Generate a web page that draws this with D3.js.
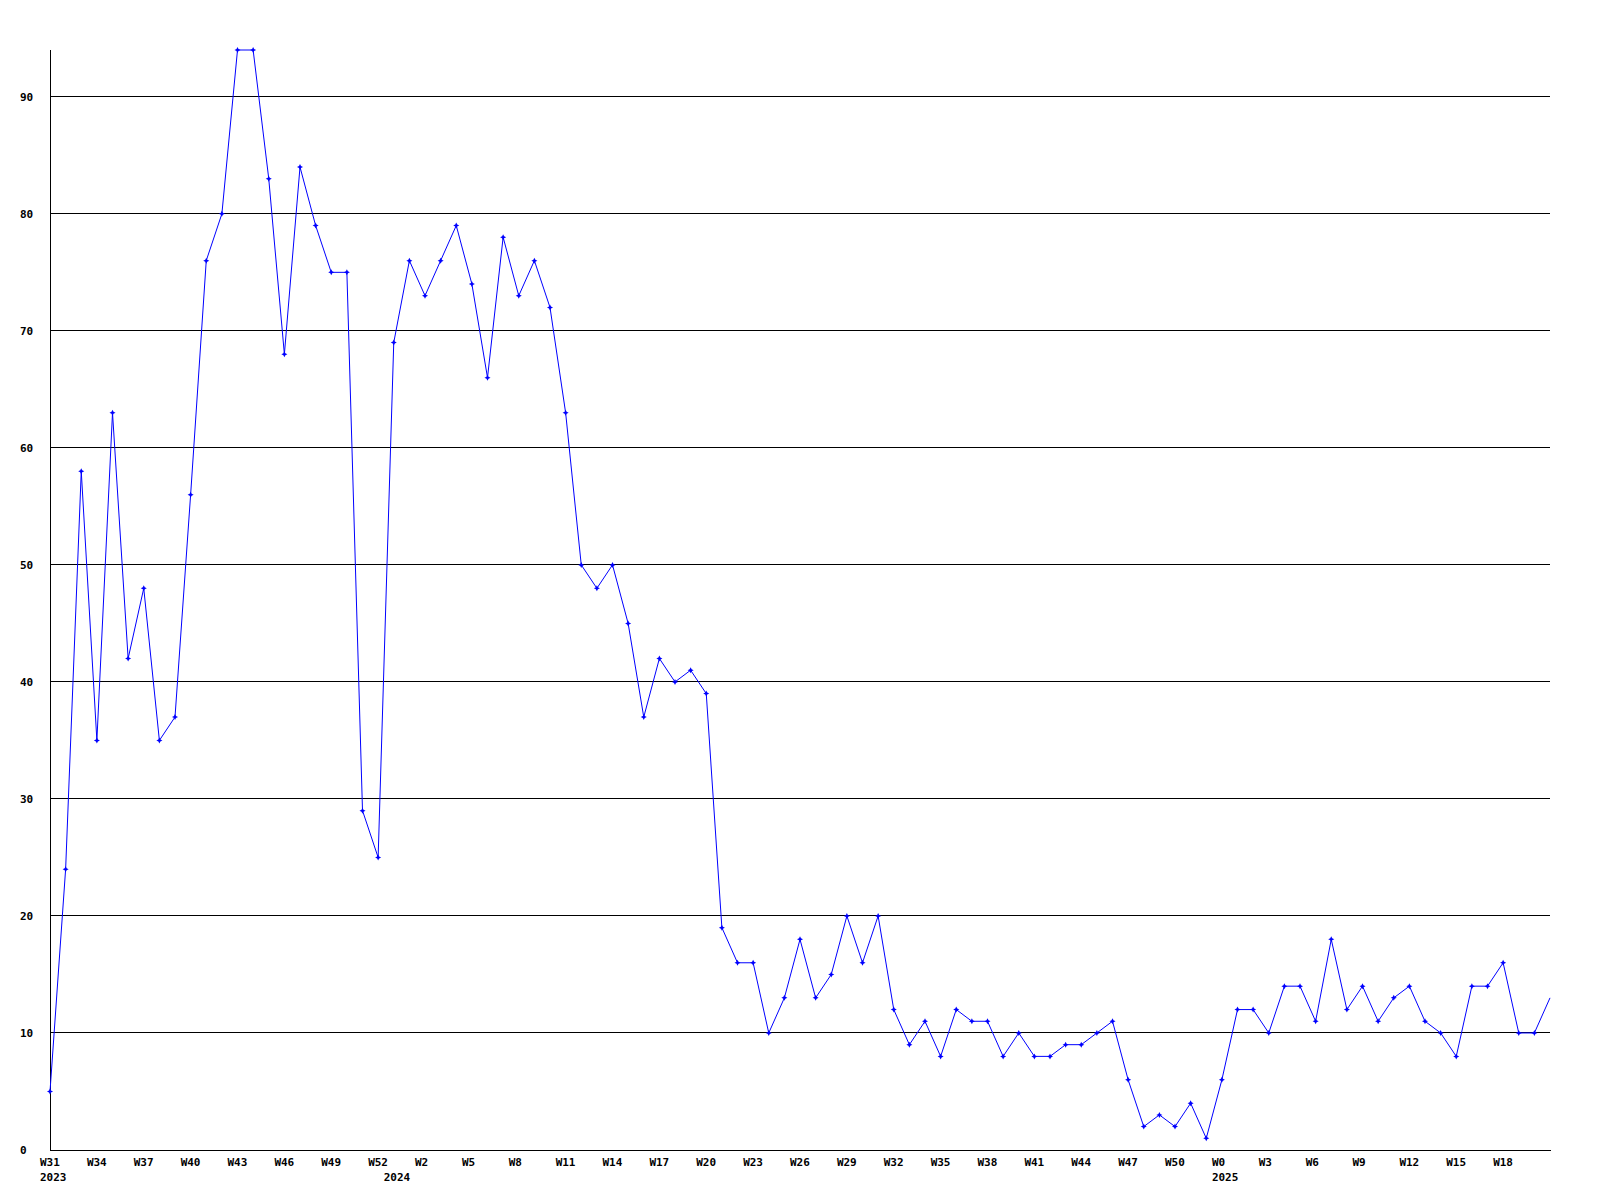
<!DOCTYPE html>
<html>
<head>
<meta charset="utf-8">
<script src="https://cdn.jsdelivr.net/npm/d3@7"></script>
<style>
  html, body { margin: 0; padding: 0; background: #fff; }
  svg { display: block; }
  text { font-family: "DejaVu Sans Mono", "Liberation Mono", monospace; font-weight: bold; font-size: 11px; fill: #000; }
</style>
</head>
<body>
<svg id="chart" width="1600" height="1200"></svg>
<script>
// Week labels per point: 2023 W31..W52, 2024 W0..W52, 2025 W0..W21
const weeks2023 = d3.range(31, 53).map(w => "W" + w);
const weeks2024 = d3.range(0, 53).map(w => "W" + w);
const weeks2025 = d3.range(0, 22).map(w => "W" + w);
const weekLabels = [...weeks2023, ...weeks2024, ...weeks2025];

// Year labels, placed at first point of each year
const yearLabels = ["2023", "2024", "2025"];
const yearStartIdx = [0, weeks2023.length, weeks2023.length + weeks2024.length];

const values = [
  5, 24, 58, 35, 63, 42, 48, 35, 37, 56,
  76, 80, 94, 94, 83, 68, 84, 79, 75, 75,
  29, 25, 69, 76, 73, 76, 79, 74, 66, 78,
  73, 76, 72, 63, 50, 48, 50, 45, 37, 42,
  40, 41, 39, 19, 16, 16, 10, 13, 18, 13,
  15, 20, 16, 20, 12, 9, 11, 8, 12, 11,
  11, 8, 10, 8, 8, 9, 9, 10, 11, 6,
  2, 3, 2, 4, 1, 6, 12, 12, 10, 14,
  14, 11, 18, 12, 14, 11, 13, 14, 11, 10,
  8, 14, 14, 16, 10, 10, 13
];

const yTicks = [0, 10, 20, 30, 40, 50, 60, 70, 80, 90];
const tickEvery = 3;

const svg = d3.select("#chart");
const mLeft = 50, mRight = 1550, mTop = 50, mBottom = 1150;

const x = d3.scaleLinear().domain([0, values.length - 1]).range([mLeft, mRight]);
const y = d3.scaleLinear().domain([0, d3.max(values)]).range([mBottom, mTop]);

// grid lines
svg.append("g").selectAll("line").data(yTicks.filter(t => t > 0)).join("line")
  .attr("x1", mLeft).attr("x2", mRight)
  .attr("y1", d => Math.floor(y(d)) + 0.5).attr("y2", d => Math.floor(y(d)) + 0.5)
  .attr("stroke", "#000").attr("stroke-width", 1);

// y tick labels
svg.append("g").selectAll("text").data(yTicks).join("text")
  .attr("x", 20).attr("y", d => y(d)).attr("dy", "0.35em")
  .attr("text-anchor", "start")
  .text(d => d);

// axes lines
svg.append("line").attr("x1", mLeft + 0.5).attr("x2", mLeft + 0.5).attr("y1", mTop).attr("y2", mBottom + 0.5)
  .attr("stroke", "#000");
svg.append("line").attr("x1", mLeft).attr("x2", mRight + 1).attr("y1", mBottom + 0.5).attr("y2", mBottom + 0.5)
  .attr("stroke", "#000");

// x tick labels
const tickIdx = d3.range(0, values.length, tickEvery).filter(i => i < 94);
svg.append("g").selectAll("text").data(tickIdx).join("text")
  .attr("x", i => x(i) - 10).attr("y", mBottom + 12).attr("dy", "0.35em")
  .attr("text-anchor", "start")
  .text(i => weekLabels[i]);

// year labels
svg.append("g").selectAll("text").data(yearLabels).join("text")
  .attr("x", (d, k) => x(yearStartIdx[k]) - 10).attr("y", mBottom + 27).attr("dy", "0.35em")
  .attr("text-anchor", "start")
  .text(d => d);

// line
const line = d3.line().x((d, i) => x(i)).y(d => y(d));
svg.append("path").datum(values)
  .attr("d", line)
  .attr("fill", "none").attr("stroke", "#0000ff").attr("stroke-width", 1);

// markers (none on the last, still-open week)
svg.append("g").selectAll("path").data(values.slice(0, -1)).join("path")
  .attr("transform", (d, i) => `translate(${x(i)},${y(d)})`)
  .attr("d", "M0,-3L1,-1L3,0L1,1L0,3L-1,1L-3,0L-1,-1Z")
  .attr("fill", "#0000ff");
</script>
</body>
</html>
